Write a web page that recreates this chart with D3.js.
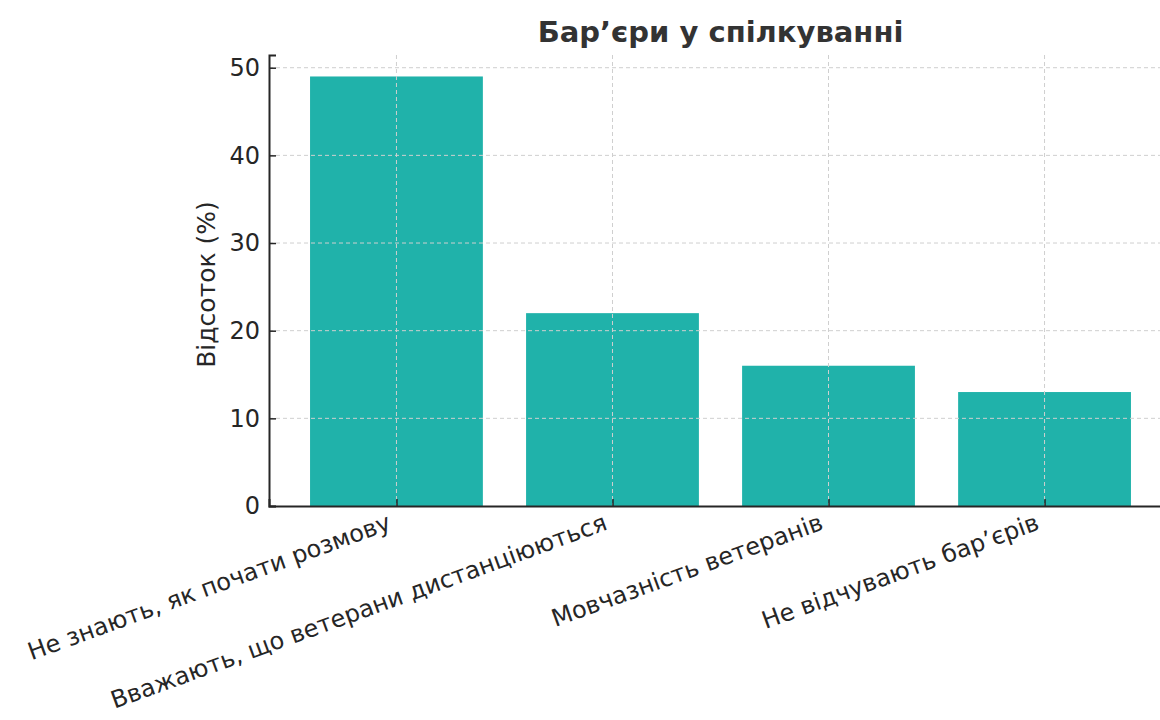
<!DOCTYPE html>
<html>
<head>
<meta charset="utf-8">
<script src="https://cdnjs.cloudflare.com/ajax/libs/d3/7.8.5/d3.min.js"></script>
<style>
  body { margin: 0; background: #fff; }
  text { font-family: "DejaVu Sans", sans-serif; fill: #262626; }
</style>
</head>
<body>
<div id="chart"></div>
<script>
var categories = [
  "Не знають, як почати розмову",
  "Вважають, що ветерани дистанціюються",
  "Мовчазність ветеранів",
  "Не відчувають бар’єрів"
];
var values = [49, 22, 16, 13];
var yTicks = [0, 10, 20, 30, 40, 50];

var svgWidth = 1160;
var svgHeight = 720;

var margin = { top: 55, left: 269 };
var width = 903;
var height = 451;

var svg = d3.select("#chart")
  .append("svg")
  .attr("width", svgWidth)
  .attr("height", svgHeight);

var chartGroup = svg.append("g")
  .attr("transform", `translate(${margin.left}, ${margin.top})`);

// x as linear index scale, matplotlib style margins
var xScale = d3.scaleLinear()
  .domain([-0.59, categories.length - 1 + 0.59])
  .range([0, width]);
var barW = xScale(0.8) - xScale(0);

var yScale = d3.scaleLinear()
  .domain([0, 51.45])
  .range([height, 0]);

// bars
chartGroup.selectAll("rect.bar").data(values).enter()
  .append("rect")
  .attr("class", "bar")
  .attr("x", (d, i) => xScale(i) - barW / 2)
  .attr("y", d => yScale(d))
  .attr("width", barW)
  .attr("height", d => height - yScale(d))
  .attr("fill", "#20b2aa");

// grid
chartGroup.selectAll("line.hgrid").data(yTicks.slice(1)).enter()
  .append("line")
  .attr("x1", 0).attr("x2", width)
  .attr("y1", d => yScale(d)).attr("y2", d => yScale(d))
  .attr("stroke", "#cfcfcf").attr("stroke-width", 1)
  .attr("stroke-dasharray", "4,3");

chartGroup.selectAll("line.vgrid").data(categories).enter()
  .append("line")
  .attr("x1", (d, i) => xScale(i)).attr("x2", (d, i) => xScale(i))
  .attr("y1", 0).attr("y2", height)
  .attr("stroke", "#cfcfcf").attr("stroke-width", 1)
  .attr("stroke-dasharray", "4,3");

// axes
var leftAxis = d3.axisLeft(yScale).tickValues(yTicks).tickSize(-7).tickPadding(9);
var bottomAxis = d3.axisBottom(xScale).tickValues(d3.range(categories.length)).tickSize(-7).tickFormat("");

var yAxisG = chartGroup.append("g").call(leftAxis);
yAxisG.selectAll("text").attr("font-size", 24).style("font-family", "DejaVu Sans");

var xAxisG = chartGroup.append("g")
  .attr("transform", `translate(0, ${height})`)
  .call(bottomAxis);

[yAxisG, xAxisG].forEach(function(g) {
  g.select(".domain").attr("stroke", "#262626").attr("stroke-width", 2);
  g.selectAll(".tick line").attr("stroke", "#262626").attr("stroke-width", 1.5);
});

// x labels rotated
chartGroup.selectAll("text.xlab").data(categories).enter()
  .append("text")
  .attr("class", "xlab")
  .attr("font-size", 24)
  .attr("text-anchor", "end")
  .attr("transform", (d, i) => `translate(${xScale(i) - 4}, ${height + 23}) rotate(-20)`)
  .text(d => d);

// y label
chartGroup.append("text")
  .attr("transform", `translate(-54, ${height / 2 + 4}) rotate(-90)`)
  .attr("text-anchor", "middle")
  .attr("font-size", 25)
  .text("Відсоток (%)");

// title
svg.append("text")
  .attr("x", margin.left + width / 2)
  .attr("y", 42)
  .attr("text-anchor", "middle")
  .attr("font-size", 29)
  .attr("font-weight", "bold")
  .style("fill", "#333")
  .text("Бар’єри у спілкуванні");
</script>
</body>
</html>
